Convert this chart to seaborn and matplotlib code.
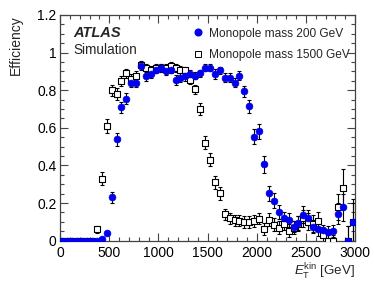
import numpy as np
import pandas as pd
import matplotlib
matplotlib.use("Agg")
import matplotlib.pyplot as plt
import seaborn as sns
from matplotlib.lines import Line2D
from matplotlib.ticker import MultipleLocator

# ---------------- data ----------------
bin_centers = [25, 75, 125, 175, 225, 275, 325, 375, 425, 475,
               525, 575, 625, 675, 725, 775, 825, 875, 925, 975,
               1025, 1075, 1125, 1175, 1225, 1275, 1325, 1375, 1425, 1475,
               1525, 1575, 1625, 1675, 1725, 1775, 1825, 1875, 1925, 1975,
               2025, 2075, 2125, 2175, 2225, 2275, 2325, 2375, 2425, 2475,
               2525, 2575, 2625, 2675, 2725, 2775, 2825, 2875, 2925, 2975]

eff_200 = [0, 0, 0, 0, 0, 0, 0, 0, 0.008, 0.04,
           0.23, 0.54, 0.71, 0.755, 0.84, 0.84, 0.93, 0.875, 0.888, 0.91,
           0.918, 0.90, 0.91, 0.855, 0.867, 0.874, 0.888, 0.878, 0.89, 0.92,
           0.92, 0.886, 0.906, 0.867, 0.867, 0.84, 0.878, 0.795, 0.715, 0.552,
           0.582, 0.407, 0.253, 0.212, 0.153, 0.12, 0.11, 0.075, 0.094, 0.138,
           0.122, 0.074, 0.062, 0.055, 0.046, 0.052, 0.144, 0.177, 0.0, 0.10]

err_200 = [0, 0, 0, 0, 0, 0, 0, 0, 0.005, 0.01,
           0.03, 0.035, 0.03, 0.03, 0.025, 0.025, 0.02, 0.025, 0.025, 0.02,
           0.02, 0.02, 0.02, 0.025, 0.025, 0.025, 0.02, 0.02, 0.02, 0.02,
           0.02, 0.025, 0.02, 0.025, 0.025, 0.025, 0.025, 0.03, 0.035, 0.04,
           0.04, 0.045, 0.04, 0.04, 0.035, 0.035, 0.035, 0.03, 0.035, 0.045,
           0.04, 0.035, 0.035, 0.03, 0.03, 0.03, 0.055, 0.07, 0.08, 0.10]

eff_1500 = [0, 0, 0, 0, 0, 0, 0, 0.06, 0.33, 0.61,
            0.80, 0.78, 0.85, 0.89, 0.86, 0.875, 0.936, 0.918, 0.91, 0.92,
            0.918, 0.92, 0.93, 0.918, 0.91, 0.905, 0.857, 0.805, 0.70, 0.52,
            0.43, 0.31, 0.253, 0.14, 0.119, 0.108, 0.107, 0.099, 0.10, 0.104,
            0.118, 0.062, 0.112, 0.086, 0.068, 0.09, 0.053, 0.069, 0.09, 0.12,
            0.10, 0.09, 0.105, 0.03, 0.0, 0.0, 0.18, 0.28, 0.0, 0.10]

err_1500 = [0, 0, 0, 0, 0, 0, 0, 0.02, 0.035, 0.035,
            0.03, 0.03, 0.025, 0.025, 0.025, 0.025, 0.02, 0.02, 0.02, 0.02,
            0.02, 0.02, 0.02, 0.02, 0.02, 0.02, 0.025, 0.025, 0.03, 0.035,
            0.035, 0.035, 0.035, 0.03, 0.03, 0.03, 0.03, 0.03, 0.03, 0.03,
            0.03, 0.03, 0.035, 0.035, 0.035, 0.035, 0.035, 0.035, 0.04, 0.045,
            0.045, 0.045, 0.045, 0.04, 0.03, 0.03, 0.07, 0.10, 0.08, 0.12]

label_200 = "Monopole mass 200 GeV"
label_1500 = "Monopole mass 1500 GeV"

df = pd.concat([
    pd.DataFrame({"ET": bin_centers, "eff": eff_1500, "err": err_1500, "sample": label_1500}),
    pd.DataFrame({"ET": bin_centers, "eff": eff_200, "err": err_200, "sample": label_200}),
], ignore_index=True)

# ---------------- style ----------------
sns.set_style("ticks")
plt.rcParams["font.family"] = ["Liberation Sans", "DejaVu Sans"]
plt.rcParams["mathtext.fontset"] = "custom"
plt.rcParams["mathtext.rm"] = "Liberation Sans"
plt.rcParams["mathtext.it"] = "Liberation Sans:italic"

blue = "#0000ee"
frame_col = "#444444"

fig = plt.figure(figsize=(3.74, 2.87), dpi=100)
ax = fig.add_axes([60 / 374, 1 - 240.7 / 287, 295 / 374, 225.7 / 287])

# error bars
for lab in [label_1500, label_200]:
    sub = df[df["sample"] == lab]
    ax.errorbar(sub["ET"], sub["eff"], yerr=sub["err"], fmt="none",
                ecolor="black", elinewidth=0.8, capsize=1.2, capthick=0.8, zorder=2)

sns.scatterplot(data=df[df["sample"] == label_1500], x="ET", y="eff", ax=ax,
                marker="s", s=22, facecolor="white", edgecolor="black",
                linewidth=0.8, zorder=3, legend=False)
sns.scatterplot(data=df[df["sample"] == label_200], x="ET", y="eff", ax=ax,
                marker="o", s=24, color=blue, edgecolor=blue,
                linewidth=0.5, zorder=4, legend=False)

ax.set_xlim(0, 3000)
ax.set_ylim(0, 1.2)
ax.xaxis.set_major_locator(MultipleLocator(500))
ax.xaxis.set_minor_locator(MultipleLocator(100))
ax.yaxis.set_major_locator(MultipleLocator(0.2))
ax.yaxis.set_minor_locator(MultipleLocator(0.05))
ax.set_yticks([0, 0.2, 0.4, 0.6, 0.8, 1.0, 1.2])
ax.set_yticklabels(["0", "0.2", "0.4", "0.6", "0.8", "1", "1.2"])

ax.tick_params(which="both", direction="in", top=True, right=True,
               colors=frame_col, labelcolor="black", labelsize=10, width=0.8)
ax.tick_params(axis="x", which="major", length=5.5, pad=4)
ax.tick_params(axis="x", which="minor", length=2.7)
ax.tick_params(axis="y", which="major", length=6, pad=2.5)
ax.tick_params(axis="y", which="minor", length=3)
for sp in ax.spines.values():
    sp.set_color(frame_col)
    sp.set_linewidth(0.9)

ax.set_ylabel("Efficiency", loc="top", fontsize=10)
ax.yaxis.set_label_coords(-0.125, 1.0)
ax.set_xlabel(r"$E_{\mathrm{T}}^{\mathrm{kin}}$ [GeV]", loc="right", fontsize=9.6)
ax.xaxis.set_label_coords(1.0, -0.095)

ax.text(0.044, 0.92, "ATLAS", transform=ax.transAxes, fontsize=10.5,
        fontweight="bold", fontstyle="italic", va="center", ha="left")
ax.text(0.044, 0.843, "Simulation", transform=ax.transAxes, fontsize=9.8,
        va="center", ha="left")

handles = [
    Line2D([], [], marker="o", linestyle="none", color=blue, markersize=4.8),
    Line2D([], [], marker="s", linestyle="none", markerfacecolor="white",
           markeredgecolor="black", markeredgewidth=0.7, markersize=4.3),
]
ax.legend(handles, [label_200, label_1500], loc="upper left",
          bbox_to_anchor=(0.443, 0.955), frameon=False, fontsize=8.6,
          handlelength=0.8, handletextpad=0.55, labelspacing=0.8,
          borderpad=0.2, borderaxespad=0)

fig.savefig("out.png", dpi=100)
